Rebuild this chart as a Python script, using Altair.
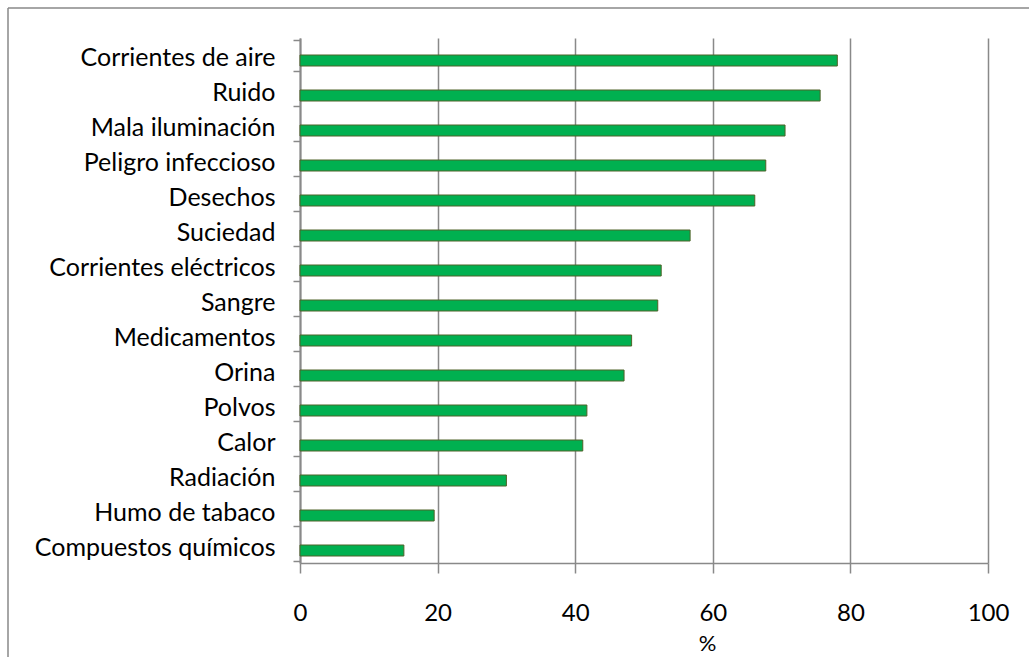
import altair as alt
import pandas as pd

categories = [
    "Corrientes de aire", "Ruido", "Mala iluminación", "Peligro infeccioso",
    "Desechos", "Suciedad", "Corrientes eléctricos", "Sangre", "Medicamentos",
    "Orina", "Polvos", "Calor", "Radiación", "Humo de tabaco", "Compuestos químicos",
]
values = [78.1, 75.6, 70.5, 67.7, 66.1, 56.7, 52.5, 52.0, 48.2, 47.1, 41.7, 41.1, 30.0, 19.5, 15.1]
x_ticks = [0, 20, 40, 60, 80, 100]

df = pd.DataFrame({"factor": categories, "pct": values})

GRAY = "#898989"

one = pd.DataFrame({"a": [0]})
border_top = alt.Chart(one).mark_rule(color=GRAY, strokeWidth=1.5).encode(
    x=alt.value(-292), x2=alt.value(729), y=alt.value(-30)
)
border_left = alt.Chart(one).mark_rule(color=GRAY, strokeWidth=1.5).encode(
    x=alt.value(-292), y=alt.value(-30), y2=alt.value(619)
)

bars = alt.Chart(df).mark_bar(
    size=11, color="#00B050", stroke="#4F6228", strokeWidth=1, yOffset=5
).encode(
    x=alt.X(
        "pct:Q",
        scale=alt.Scale(domain=[0, 100], nice=False, zero=True),
        axis=alt.Axis(
            values=x_ticks, title="%", grid=True, gridColor=GRAY, gridWidth=1.5,
            domainColor=GRAY, domainWidth=1.5, tickColor=GRAY, tickWidth=1.5,
            tickSize=10, labelFontSize=24, labelFont="Lato", labelColor="black",
            labelPadding=28, labelFlush=False, labelOverlap=False,
            titleFont="Lato", titleFontSize=22, titleFontWeight="normal",
            titleColor="black", titleX=407, titleY=80, titleBaseline="middle",
            titleAlign="center", titleAnchor="start",
        ),
    ),
    y=alt.Y(
        "factor:N", sort=categories,
        axis=alt.Axis(
            title=None, tickBand="extent", grid=False, domainColor=GRAY,
            domainWidth=2, tickColor=GRAY, tickWidth=1.5, tickSize=7,
            labelFontSize=25, labelFont="Lato", labelColor="black",
            labelPadding=18, labelLimit=0, labelOffset=1.5,
        ),
    ),
)

chart = alt.layer(border_top, border_left, bars).properties(
    width=688, height=525,
    autosize=alt.AutoSizeParams(type="none"),
    padding={"left": 300, "top": 38, "right": 41, "bottom": 94},
    background="white",
).configure_view(stroke=None)

chart.save("out.html", embed_options={"renderer": "svg", "actions": False})
